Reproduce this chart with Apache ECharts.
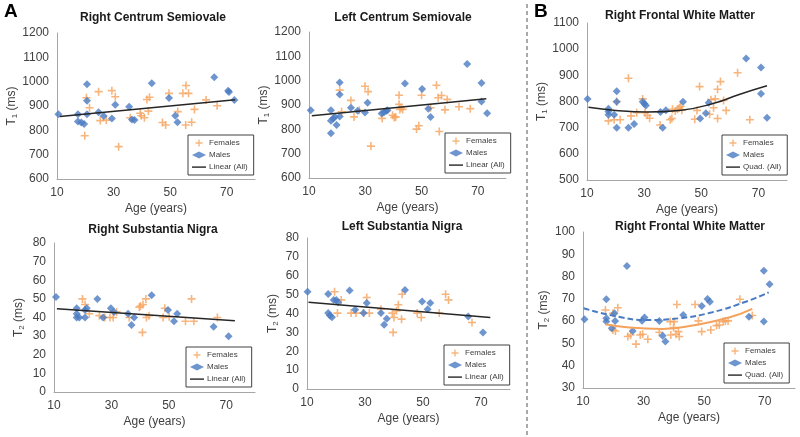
<!DOCTYPE html>
<html lang="en">
<head>
  <meta charset="UTF-8">
  <title>T1 / T2 vs age</title>
  <style>
    * { box-sizing: border-box; padding: 0; margin: 0; }
    html, body, #main { width: 100%; height: 100%; background: #fff; }
  </style>
  <script src="https://cdn.jsdelivr.net/npm/echarts@6/dist/echarts.min.js"></script>
</head>
<body>
  <div id="main"></div>
  <script>
    // values: [age, ms]
    var rcsFemales = [[19.8,778],[20.4,934],[21.5,893],[24.7,959],[25.3,840],[27.4,842],[29.4,963],[30.6,938],[31.8,733],[35.9,852],[39.4,870],[39.8,860],[40.9,852],[41.8,927],[42.7,936],[42.3,879],[47.3,832],[48.4,822],[49.6,952],[52.7,877],[54.5,952],[56.5,952],[55.6,984],[55.5,822],[57.6,833],[58.6,886],[62.7,925],[66.6,901]];
    var rcsMales = [[10.5,866],[17.4,866],[17.4,836],[18.6,832],[19.6,826],[20.6,989],[20.6,922],[20.6,866],[24.7,874],[26.5,859],[29.4,849],[30.6,905],[35.5,897],[36.5,845],[37.4,842],[43.5,993],[49.6,933],[51.8,860],[52.6,833],[65.6,1018],[70.5,963],[70.8,958],[72.7,925]];
    var rcsTrend = [[11,857],[73,926]];

    var lcsFemales = [[20.9,961],[21.6,872],[24.9,919],[26,851],[27.9,878],[29.9,977],[31,955],[32,731],[36,845],[39.7,858],[40.3,849],[40.8,851],[42,940],[42,903],[42.3,882],[42.7,889],[43.3,882],[48.2,801],[49,815],[50,940],[53.2,889],[55.3,981],[55.9,930],[57.1,939],[56.3,791],[59.1,923],[58.3,880],[63.3,893],[67.3,885]];
    var lcsMales = [[10.6,878],[17.8,878],[17.8,835],[18.6,845],[19.2,851],[19.8,818],[17.8,784],[20.9,992],[20.9,943],[20.9,853],[24.9,889],[27.3,876],[29.9,869],[30.8,909],[35.8,865],[36.6,869],[37.5,876],[37.9,878],[44.1,988],[50.2,966],[52.4,885],[53.2,851],[66.2,1069],[71.3,990],[71.3,914],[73.3,866]];
    var lcsTrend = [[11,856],[73,926]];

    var rfwT1Females = [[17.5,726],[19.5,730],[21.6,730],[20.4,800],[24.5,889],[25.4,745],[27.4,757],[29.5,810],[30.3,757],[31.1,747],[31.9,736],[35.6,710],[39.9,770],[40.9,764],[41.7,770],[42.3,776],[42.8,782],[43.2,767],[39.1,730],[39.7,735],[47.7,732],[48.5,766],[49.4,857],[52.9,751],[53.4,807],[54.3,776],[54.9,810],[55.7,847],[55.7,735],[56.7,876],[57.8,804],[58.7,766],[62.7,910],[67,730]];
    var rfwT1Males = [[10.2,810],[17.5,772],[17.5,762],[17.5,749],[19.5,749],[20.4,839],[20.4,799],[20.4,700],[24.5,700],[26.5,714],[29.5,799],[30.1,791],[30.6,785],[35.7,760],[36.5,700],[37.6,767],[43.6,799],[49.6,735],[51.6,755],[52.6,795],[65.7,964],[70.9,930],[70.9,830],[73,738]];
    var rfwT1Trend = [[10.5,778],[20,766],[31,760],[43,767],[55,795],[63,826],[73,860]];

    var rsnFemales = [[19.9,50],[20.8,47],[22.3,42],[25.8,41],[27.7,40],[29.5,40],[30.6,40],[31.8,43],[36.2,40],[39.7,45.5],[40.1,46.2],[41,47],[42,50],[40.8,32],[42.2,40],[43.1,41],[48,40],[48.6,45],[50.1,40.4],[55.8,38],[58.7,38],[57.9,50],[66.9,40]];
    var rsnMales = [[10.7,51],[17.9,45],[17.9,42],[17.9,40],[18.8,40],[20.8,40],[20.8,44],[21.4,45],[25.1,50],[27.1,40],[29.8,45],[30.9,43],[35.8,42],[37,36],[37.9,40],[44,52],[49.7,44],[51.8,38],[52.9,42],[65.6,35],[70.8,30]];
    var rsnTrend = [[11,44.7],[73,38.2]];

    var lsnFemales = [[19.5,51.5],[20.5,40.2],[21.8,47.2],[25.2,40.2],[26.9,40.2],[29.5,40.2],[31.5,40.2],[30.6,48.5],[35.5,42.3],[39.4,40.2],[40,37.9],[40.9,41.4],[41.5,44.6],[42.8,50.2],[42.6,37],[39.7,30],[48,40.2],[49.4,37.9],[55.6,40.2],[57.8,50.2],[58.8,47.2],[66.9,35.2]];
    var lsnMales = [[10.2,51.5],[17.3,50.3],[17.3,40.2],[17.9,38.9],[18.6,38],[19.2,47.2],[20.1,47.2],[20.7,46],[24.7,52.2],[26.6,42],[29.5,40.2],[30.6,45.5],[35.5,40.2],[37.5,37.2],[36.6,34],[43.8,52.5],[49.7,46.4],[51.6,42.3],[52.5,45.5],[65.6,38.4],[70.7,30]];
    var lsnTrend = [[10.5,46],[73.2,37.9]];

    var rfwT2Females = [[17.4,65],[19.9,63.5],[21.5,66],[19.9,56],[20.7,55.6],[24.8,53.1],[25.7,53.8],[27.5,49.7],[28.9,53.8],[29.7,54.1],[31.4,51.9],[35.2,55],[38.8,59.8],[40.1,59.8],[39.9,57.1],[39,53.8],[40.7,54.1],[41,67.5],[41.8,53.1],[41.5,55.3],[47,67.5],[48.1,60.1],[49.2,55.3],[52.2,56],[54.1,58],[55,58.3],[56.3,59.8],[57,60.1],[57.9,60.1],[61.8,69.8],[65.9,62.5]];
    var rfwT2Males = [[10.5,60.8],[17.7,69.8],[17.7,61.3],[17.7,59.8],[19.5,56.8],[20.4,63.5],[20.6,60.1],[24.5,84.7],[26.4,55.6],[29.5,60.2],[30.3,61.6],[35.2,60.1],[36.3,53.4],[37.2,50.9],[43.1,62.8],[49.2,66.8],[51.1,69.9],[51.9,68.7],[64.8,62],[69.7,82.6],[69.7,59.8],[71.6,76.6]];
    var rfwT2FemTrend = [[17.4,58.6],[25.3,57.1],[36.3,56.5],[47.2,58.3],[58.2,61.6],[65.9,65.5]];
    var rfwT2MaleTrend = [[10.2,65.8],[19.9,62.5],[30.8,60.5],[41.8,61.3],[52.7,64],[63.7,68.7],[71.3,72.9]];

    var titles = ['Right Centrum Semiovale', 'Left Centrum Semiovale', 'Right Frontal White Matter',
                  'Right Substantia Nigra', 'Left Substantia Nigra', 'Right Frontal White Matter'];
    var yRanges = [[600, 1200, 100], [600, 1200, 100], [500, 1100, 100], [0, 80, 10], [0, 80, 10], [30, 100, 10]];
    var yNames = ['T{s|1} (ms)', 'T{s|1} (ms)', 'T{s|1} (ms)', 'T{s|2} (ms)', 'T{s|2} (ms)', 'T{s|2} (ms)'];

    var ORANGE = '#F5A25D';
    var BLUE = '#4A7BC2';
    var FONT = 'Liberation Sans, Arial, sans-serif';
    var PLUS = 'path://M3.2,0H4.8V3.2H8V4.8H4.8V8H3.2V4.8H0V3.2H3.2Z';
    var LINE_ICON = 'path://M0,0M14,7M0,2.9H14V4.3H0Z';

    // plot boxes [left, top, width, height] and legend boxes [left, top]
    var boxes = [[57, 33, 198, 146], [309, 32, 197, 146], [587, 23, 200, 157],
                 [54, 243, 201, 149], [307, 238, 203, 151], [583, 232, 212, 156]];
    var legendPos = [[188, 135], [445, 133], [722, 135], [186, 347], [444, 345], [724, 343]];
    var titlePos = [[153, 12], [403, 12], [680, 10], [153, 224], [402, 221], [690, 221]];
    var yNameGaps = [29, 32, 35, 28, 27, 30];

    var myChart = echarts.init(document.getElementById('main'));

    var grid = [], xAxis = [], yAxis = [], legend = [], graphic = [];
    boxes.forEach(function (b, i) {
      grid.push({ left: b[0], top: b[1], width: b[2], height: b[3] });
      xAxis.push({
        gridIndex: i, type: 'value', min: 10, max: 80, interval: 20,
        name: 'Age (years)', nameLocation: 'middle', nameGap: 24,
        nameTextStyle: { fontFamily: FONT, fontSize: 12, color: '#404040' },
        axisLine: { lineStyle: { color: '#a6a6a6' } },
        axisTick: { show: false },
        axisLabel: { fontFamily: FONT, fontSize: 12, color: '#404040', showMaxLabel: false, margin: 8 },
        splitLine: { show: false }
      });
      yAxis.push({
        gridIndex: i, type: 'value', min: yRanges[i][0], max: yRanges[i][1], interval: yRanges[i][2],
        name: yNames[i], nameLocation: 'middle', nameGap: yNameGaps[i],
        nameTextStyle: { fontFamily: FONT, fontSize: 12, color: '#404040',
          rich: { s: { fontFamily: FONT, fontSize: 8, color: '#404040', verticalAlign: 'bottom', padding: [6, 0, 0, 0] } } },
        axisLine: { show: true, lineStyle: { color: '#a6a6a6' } },
        axisTick: { show: false },
        axisLabel: { fontFamily: FONT, fontSize: 12, color: '#404040', margin: 8,
          formatter: function (v) { return String(v); } },
        splitLine: { show: false }
      });
      legend.push({
        left: legendPos[i][0], top: legendPos[i][1], orient: 'vertical',
        data: ['Females', 'Males',
          { name: (i === 2 || i === 5) ? 'Quad. (All)' : 'Linear (All)', icon: LINE_ICON }],
        itemWidth: 14, itemHeight: 7, itemGap: 4, padding: [4, 6, 4, 4],
        borderColor: '#404040', borderWidth: 1, backgroundColor: '#fff',
        textStyle: { fontFamily: FONT, fontSize: 8, color: '#404040', padding: [0, 0, 0, -2] },
        selectedMode: false
      });
      graphic.push({
        type: 'text', x: titlePos[i][0], y: titlePos[i][1],
        style: { text: titles[i], align: 'center', font: 'bold 12px ' + FONT, fill: '#1a1a1a' }
      });
    });

    graphic.push({ type: 'text', x: 4, y: 2, style: { text: 'A', font: 'bold 19px ' + FONT, fill: '#000' } });
    graphic.push({ type: 'text', x: 534, y: 2, style: { text: 'B', font: 'bold 19px ' + FONT, fill: '#000' } });
    graphic.push({ type: 'line', shape: { x1: 527, y1: 4, x2: 527, y2: 437 },
      style: { stroke: '#555', lineWidth: 1, lineDash: [4, 3] } });

    function females(data, i) {
      return { name: 'Females', type: 'scatter', xAxisIndex: i, yAxisIndex: i, data: data,
        symbol: PLUS, symbolSize: 8, itemStyle: { color: ORANGE }, z: 3 };
    }
    function males(data, i) {
      return { name: 'Males', type: 'scatter', xAxisIndex: i, yAxisIndex: i, data: data,
        symbol: 'diamond', symbolSize: 8, itemStyle: { color: BLUE }, z: 3 };
    }
    function trend(name, data, i, smooth) {
      return { name: name, type: 'line', xAxisIndex: i, yAxisIndex: i, data: data, smooth: smooth ? 0.5 : false,
        symbol: 'none', lineStyle: { color: '#262626', width: 1.5 }, itemStyle: { color: '#262626' }, z: 4 };
    }

    var series = [
      females(rcsFemales, 0), males(rcsMales, 0), trend('Linear (All)', rcsTrend, 0),
      females(lcsFemales, 1), males(lcsMales, 1), trend('Linear (All)', lcsTrend, 1),
      females(rfwT1Females, 2), males(rfwT1Males, 2), trend('Quad. (All)', rfwT1Trend, 2, true),
      females(rsnFemales, 3), males(rsnMales, 3), trend('Linear (All)', rsnTrend, 3),
      females(lsnFemales, 4), males(lsnMales, 4), trend('Linear (All)', lsnTrend, 4),
      females(rfwT2Females, 5), males(rfwT2Males, 5), trend('Quad. (All)', [], 5),
      { name: 'femTrend', type: 'line', xAxisIndex: 5, yAxisIndex: 5, data: rfwT2FemTrend, smooth: 0.5,
        symbol: 'none', lineStyle: { color: ORANGE, width: 2 }, z: 4 },
      { name: 'maleTrend', type: 'line', xAxisIndex: 5, yAxisIndex: 5, data: rfwT2MaleTrend, smooth: 0.5,
        symbol: 'none', lineStyle: { color: BLUE, width: 2, type: [6, 3] }, z: 4 }
    ];

    var option = {
      animation: false,
      backgroundColor: '#fff',
      textStyle: { fontFamily: FONT },
      grid: grid,
      xAxis: xAxis,
      yAxis: yAxis,
      legend: legend,
      graphic: graphic,
      series: series
    };
    myChart.setOption(option);
    window.onresize = myChart.resize;
  </script>
</body>
</html>
